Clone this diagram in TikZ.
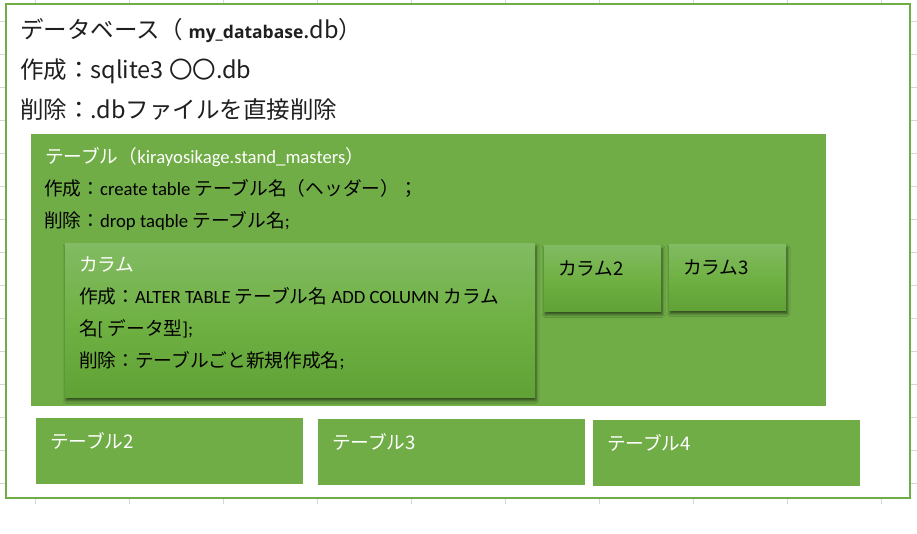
\documentclass[tikz,border=0pt]{standalone}
\usepackage{fontspec}
\setmainfont{Noto Sans CJK JP}
\newfontfamily\calfont{Carlito}[Numbers=Lining]
\newfontfamily\boldsans{Open Sans}
\usetikzlibrary{shadows.blur}
\definecolor{acc}{HTML}{70AD47}
\definecolor{gtop}{HTML}{82BB63}
\definecolor{gmid}{HTML}{70B144}
\definecolor{gbot}{HTML}{60A235}
\definecolor{gridc}{HTML}{D6D6D6}
\newcommand\latn[1]{{\calfont #1}}
\tikzset{
  box/.style={rectangle, anchor=north west, inner sep=0pt, outer sep=0pt},
  flatbox/.style={box, fill=acc},
  colbox/.style={box, top color=gtop, bottom color=gbot, middle color=gmid,
    blur shadow={shadow xshift=1pt, shadow yshift=-3.5pt, shadow blur radius=3pt, shadow opacity=60}},
  frame/.style={box, draw=acc, line width=2.8pt},
  txt/.style={anchor=base west, inner sep=0pt, outer sep=0pt},
  big/.style={txt, font=\fontsize{23.5}{28}\selectfont, text=black!88},
  mid/.style={txt, font=\fontsize{18.7}{22}\selectfont},
  gridline/.style={draw=gridc, line width=1pt},
}
\begin{document}
\begin{tikzpicture}[x=1pt,y=-1pt]
\useasboundingbox (0,0) rectangle (917,533);
\fill[white] (0,0) rectangle (917,533);
% spreadsheet grid ticks outside the frame
\foreach \gx in {35,129,223,317,411,505,599,693,787,881}{
  \draw[gridline] (\gx,0) -- (\gx,4);
  \draw[gridline] (\gx,498) -- (\gx,504);
}
\foreach \gy in {21,54,87,120,153,186,219,252,285,318,351,384,417,450,483}{
  \draw[gridline] (0,\gy) -- (6,\gy);
  \draw[gridline] (910,\gy) -- (917,\gy);
}
% database frame
\node[frame, minimum width=904pt, minimum height=494pt] (db) at (6,4) {};
\node[big] (dbtitle) at (20,38) {データベース（ {\boldsans\bfseries\fontsize{17.5}{20}\selectfont my\_database}.db）};
\node[big] (dbmake) at (20,78) {作成：sqlite3 〇〇.db};
\node[big] (dbdel) at (20,118) {削除：.dbファイルを直接削除};
% table
\node[flatbox, minimum width=795pt, minimum height=272pt] (tbl) at (31,134) {};
\node[mid, text=white] (tbltitle) at (45,163) {テーブル（\latn{kirayosikage.stand\_masters}）};
\node[mid, text=black] (tblmake) at (44,195) {作成：\latn{create table }テーブル名（ヘッダー）；};
\node[mid, text=black] (tbldel) at (44,227) {削除：\latn{drop taqble }テーブル名\latn{;}};
% columns
\node[colbox, minimum width=470pt, minimum height=154pt] (col1) at (65,243) {};
\node[mid, text=white] (col1title) at (79,271) {カラム};
\node[mid, text=black] (col1make) at (79,303) {作成：\latn{ALTER TABLE }テーブル名\latn{ ADD COLUMN }カラム};
\node[mid, text=black] (col1make2) at (79,335) {名\latn{[ }データ型\latn{];}};
\node[mid, text=black] (col1del) at (79,367) {削除：テーブルごと新規作成名\latn{;}};
\node[colbox, minimum width=117pt, minimum height=66pt] (col2) at (544,245) {};
\node[mid, text=black] (col2title) at (558,275) {カラム2};
\node[colbox, minimum width=117pt, minimum height=66pt] (col3) at (669,244) {};
\node[mid, text=black] (col3title) at (683,274) {カラム3};
% other tables
\node[flatbox, minimum width=267pt, minimum height=66pt] (tbl2) at (36,418) {};
\node[mid, text=white] (tbl2title) at (50,448) {テーブル2};
\node[flatbox, minimum width=267pt, minimum height=66pt] (tbl3) at (318,419) {};
\node[mid, text=white] (tbl3title) at (332,449) {テーブル3};
\node[flatbox, minimum width=267pt, minimum height=66pt] (tbl4) at (593,420) {};
\node[mid, text=white] (tbl4title) at (607,450) {テーブル4};
\end{tikzpicture}
\end{document}
